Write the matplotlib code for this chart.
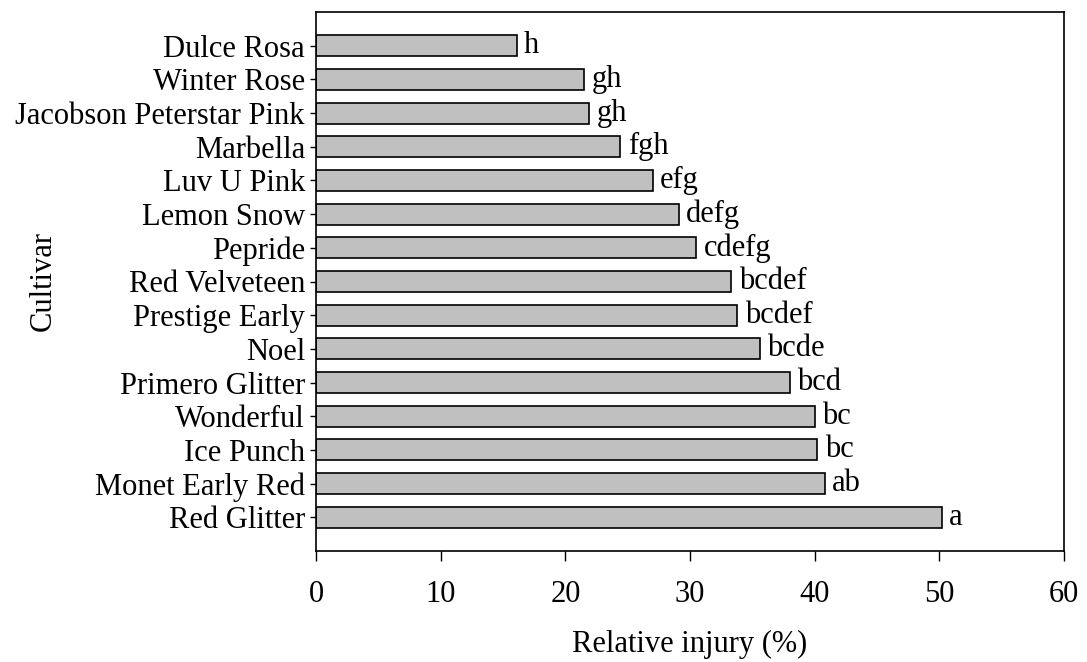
import matplotlib.pyplot as plt

# -------------------------------
# DATA
# -------------------------------
cultivars = ["Red Glitter", "Monet Early Red", "Ice Punch", "Wonderful",
             "Primero Glitter", "Noel", "Prestige Early", "Red Velveteen",
             "Pepride", "Lemon Snow", "Luv U Pink", "Marbella",
             "Jacobson Peterstar Pink", "Winter Rose", "Dulce Rosa"]
injury = [50.2, 40.8, 40.2, 40.0, 38.0, 35.6, 33.8, 33.3,
          30.5, 29.1, 27.0, 24.4, 21.9, 21.5, 16.1]
letters = ["a", "ab", "bc", "bc", "bcd", "bcde", "bcdef", "bcdef",
           "cdefg", "defg", "efg", "fgh", "gh", "gh", "h"]

plt.rcParams['font.family'] = ['Liberation Serif', 'DejaVu Serif']
fs = 22

fig = plt.figure(figsize=(10.87, 6.62), dpi=100)
ax = fig.add_axes([316 / 1087, 1 - 551 / 662, (1064 - 316) / 1087, (551 - 12) / 662])

pos = list(range(len(cultivars)))
ax.barh(pos, injury, height=0.62, color="#c0c0c0", edgecolor="black", linewidth=1.2)

for p, v, t in zip(pos, injury, letters):
    ax.text(v + 0.6, p, t, va="center", ha="left", fontsize=fs)

ax.set_xlim(0, 60)
ax.set_ylim(-1, len(cultivars))
ax.set_xticks(range(0, 61, 10))
ax.set_yticks(pos)
ax.set_yticklabels(cultivars)
ax.tick_params(axis="x", direction="out", length=7, width=1, labelsize=fs, pad=14)
ax.tick_params(axis="y", direction="out", length=4, width=1, labelsize=fs, pad=4)
for s in ax.spines.values():
    s.set_linewidth(1.2)

ax.set_xlabel("Relative injury (%)", fontsize=fs)
ax.set_ylabel("Cultivar", fontsize=fs)
ax.xaxis.set_label_coords(0.5, -0.147)
ax.yaxis.set_label_coords(-0.345, 0.501)

fig.savefig("out.png", dpi=100)
